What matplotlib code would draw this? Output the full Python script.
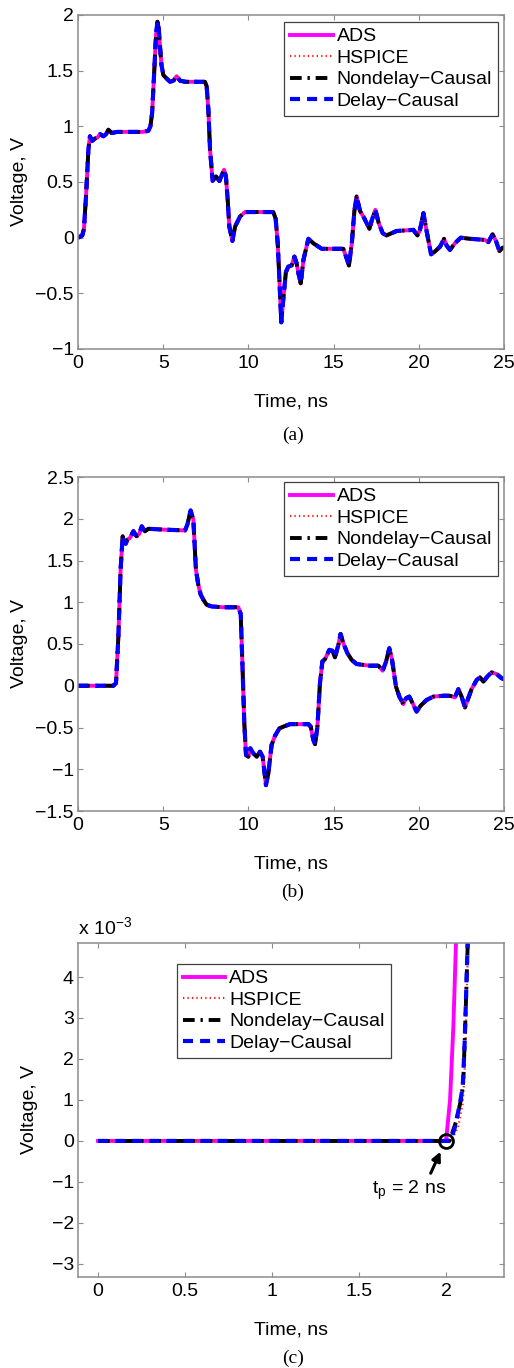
import numpy as np
import matplotlib
matplotlib.use("Agg")
import matplotlib.pyplot as plt
from matplotlib.ticker import FuncFormatter

plt.rcParams['font.family'] = ['Liberation Sans', 'DejaVu Sans']
plt.rcParams['font.size'] = 14
plt.rcParams['axes.edgecolor'] = '#8c8c8c'
plt.rcParams['axes.linewidth'] = 1.1
plt.rcParams['xtick.direction'] = 'in'
plt.rcParams['ytick.direction'] = 'in'
plt.rcParams['xtick.top'] = True
plt.rcParams['ytick.right'] = True
plt.rcParams['xtick.major.size'] = 3.5
plt.rcParams['ytick.major.size'] = 3.5
plt.rcParams['xtick.color'] = '#8c8c8c'
plt.rcParams['ytick.color'] = '#8c8c8c'
plt.rcParams['xtick.labelcolor'] = 'black'
plt.rcParams['ytick.labelcolor'] = 'black'
plt.rcParams['xtick.major.pad'] = 4
plt.rcParams['ytick.major.pad'] = 3

# --- far-end voltage, case (a) (all four methods agree at this scale) ---
t_a = [0, 0.25, 0.35, 0.47, 0.61, 0.70, 0.83, 0.99, 1.15, 1.29, 1.49, 1.65, 1.78, 1.98,
       2.3, 3.0, 3.8, 4.13, 4.25, 4.35, 4.46, 4.58, 4.66, 4.74, 4.81, 4.9, 5.01, 5.2,
       5.4, 5.6, 5.79, 5.99, 6.3, 7.0, 7.45, 7.55, 7.65, 7.75, 7.9, 8.1, 8.3, 8.57,
       8.68, 8.78, 8.88, 9.06, 9.22, 9.51, 9.8, 10.2, 11.0, 11.46, 11.6, 11.72, 11.82,
       11.93, 12.06, 12.2, 12.34, 12.54, 12.7, 12.83, 12.95, 13.07, 13.23, 13.52, 13.81,
       14.3, 15.0, 15.57, 15.73, 15.9, 16.07, 16.22, 16.35, 16.55, 16.78, 17.1, 17.25,
       17.45, 17.65, 17.88, 18.1, 18.7, 19.68, 19.92, 20.07, 20.27, 20.47, 20.72, 20.98,
       21.25, 21.48, 21.63, 21.83, 22.12, 22.46, 23.0, 23.88, 24.08, 24.33, 24.53, 24.73,
       24.92, 25.0]
v_a = [0, 0.02, 0.08, 0.37, 0.79, 0.91, 0.87, 0.89, 0.90, 0.93, 0.91, 0.93, 0.97, 0.94,
       0.95, 0.95, 0.95, 0.96, 1.0, 1.12, 1.45, 1.82, 1.94, 1.88, 1.72, 1.55, 1.46, 1.43,
       1.40, 1.41, 1.45, 1.41, 1.40, 1.40, 1.40, 1.36, 1.15, 0.79, 0.51, 0.55, 0.51, 0.61,
       0.55, 0.35, 0.10, -0.03, 0.10, 0.19, 0.23, 0.23, 0.23, 0.23, 0.17, -0.05, -0.38,
       -0.76, -0.53, -0.31, -0.26, -0.25, -0.17, -0.23, -0.33, -0.41, -0.20, -0.01, -0.05,
       -0.10, -0.10, -0.10, -0.17, -0.25, -0.05, 0.24, 0.37, 0.24, 0.18, 0.08, 0.16,
       0.25, 0.13, 0.04, 0.02, 0.06, 0.07, 0.02, 0.07, 0.22, 0.05, -0.15, -0.12,
       -0.08, -0.01, -0.07, -0.11, -0.05, 0.00, -0.01, -0.02, -0.04, 0.03, -0.03, -0.12,
       -0.09, -0.09]

# --- far-end voltage, case (b) ---
t_b = [0, 2.07, 2.23, 2.37, 2.5, 2.62, 2.70, 2.8, 2.9, 3.05, 3.25, 3.44, 3.6, 3.74, 3.93,
       4.13, 5.0, 6.28, 6.42, 6.61, 6.77, 6.92, 7.06, 7.2, 7.36, 7.55, 7.84, 8.5, 9.41,
       9.55, 9.66, 9.76, 9.86, 10.0, 10.11, 10.29, 10.49, 10.68, 10.84, 11.03, 11.17,
       11.36, 11.56, 11.82, 12.05, 12.44, 13.52, 13.66, 13.81, 13.91, 14.05, 14.2, 14.34,
       14.5, 14.75, 14.93, 15.08, 15.28, 15.41, 15.57, 15.81, 16.06, 16.35, 17.14, 17.63,
       17.88, 18.08, 18.27, 18.43, 18.66, 18.86, 19.09, 19.25, 19.44, 19.64, 19.87, 20.1,
       20.46, 20.85, 21.44, 21.83, 22.12, 22.32, 22.51, 22.71, 22.9, 23.1, 23.4, 23.59,
       23.79, 24.02, 24.27, 24.57, 24.86, 25.0]
v_b = [0, 0, 0.03, 0.59, 1.39, 1.79, 1.72, 1.70, 1.75, 1.77, 1.85, 1.79, 1.82, 1.91, 1.85,
       1.88, 1.87, 1.86, 1.93, 2.10, 1.99, 1.39, 1.21, 1.09, 1.03, 0.97, 0.95, 0.94, 0.94,
       0.86, 0.19, -0.45, -0.83, -0.85, -0.75, -0.81, -0.85, -0.79, -0.85, -1.19, -1.05,
       -0.71, -0.60, -0.51, -0.49, -0.46, -0.46, -0.49, -0.65, -0.70, -0.49, 0.03, 0.29,
       0.32, 0.43, 0.42, 0.34, 0.49, 0.62, 0.51, 0.39, 0.31, 0.26, 0.24, 0.24,
       0.18, 0.29, 0.45, 0.31, -0.01, -0.13, -0.22, -0.15, -0.13, -0.21, -0.31, -0.24,
       -0.17, -0.13, -0.12, -0.12, -0.14, -0.04, -0.13, -0.26, -0.15, -0.04, 0.07, 0.10,
       0.05, 0.11, 0.16, 0.14, 0.09, 0.08]

# --- zoom on the rising edge near t = 2 ns (volts) ---
t_c_ads = [0, 1.0, 2.0, 2.023, 2.042, 2.057, 2.06]
v_c_ads = [0, 0, 0, 1.0e-3, 2.8e-3, 4.82e-3, 5.1e-3]
t_c_hspice = [0, 1.0, 2.03, 2.07, 2.095, 2.105, 2.113, 2.12, 2.128]
v_c_hspice = [0, 0, 0, 0.35e-3, 0.9e-3, 1.5e-3, 2.6e-3, 3.8e-3, 5.0e-3]
t_c_nondelay = [0, 1.0, 2.02, 2.06, 2.09, 2.1, 2.11, 2.118, 2.126]
v_c_nondelay = [0, 0, 0, 0.5e-3, 1.1e-3, 1.6e-3, 2.8e-3, 3.9e-3, 5.0e-3]
t_c_delay = [0, 1.0, 2.025, 2.052, 2.08, 2.096, 2.106, 2.115, 2.125]
v_c_delay = [0, 0, 0, 0.35e-3, 0.92e-3, 1.32e-3, 2.3e-3, 3.52e-3, 5.0e-3]

labels = ['ADS', 'HSPICE', 'Nondelay\u2212Causal', 'Delay\u2212Causal']
captions = ['(a)', '(b)', '(c)']


def draw_curves(ax, series):
    (t1, v1), (t2, v2), (t3, v3), (t4, v4) = series
    ax.plot(t1, v1, color='#ff00ff', lw=2.8, label=labels[0])
    ax.plot(t2, v2, color='#ff2020', lw=1.6, ls=(0, (0.6, 1.4)), label=labels[1])
    ax.plot(t3, v3, color='black', lw=2.8, ls=(0, (3.0, 1.5, 0.6, 1.5)), label=labels[2])
    ax.plot(t4, v4, color='#0000ff', lw=3.0, ls=(0, (2.4, 1.7)), label=labels[3])


def add_legend(ax, loc, anchor):
    leg = ax.legend(loc=loc, bbox_to_anchor=anchor, borderaxespad=0, fancybox=False,
                    edgecolor='#404040', framealpha=1, handlelength=2.2,
                    handletextpad=0.2, labelspacing=0.2, borderpad=0.3, fontsize=14)
    leg.get_frame().set_linewidth(0.9)


def fmt_minus(v, p):
    return f'{v:g}'.replace('-', '\u2212')


fig = plt.figure(figsize=(5.14, 13.68), dpi=100)
left, width, height = 78 / 514, 426 / 514, 334 / 1368

ax1 = fig.add_axes([left, 1 - 349 / 1368, width, height])
draw_curves(ax1, [(t_a, v_a)] * 4)
ax1.set_xlim(0, 25)
ax1.set_ylim(-1, 2)
ax1.set_xticks(np.arange(0, 26, 5))
ax1.set_yticks(np.arange(-1, 2.01, 0.5))
ax1.yaxis.set_major_formatter(FuncFormatter(fmt_minus))
ax1.set_xlabel('Time, ns', labelpad=16)
ax1.set_ylabel('Voltage, V', labelpad=5)
add_legend(ax1, 'upper right', (0.986, 0.979))

ax2 = fig.add_axes([left, 1 - 811 / 1368, width, height])
draw_curves(ax2, [(t_b, v_b)] * 4)
ax2.set_xlim(0, 25)
ax2.set_ylim(-1.5, 2.5)
ax2.set_xticks(np.arange(0, 26, 5))
ax2.set_yticks(np.arange(-1.5, 2.51, 0.5))
ax2.yaxis.set_major_formatter(FuncFormatter(fmt_minus))
ax2.set_xlabel('Time, ns', labelpad=16)
ax2.set_ylabel('Voltage, V', labelpad=5)
add_legend(ax2, 'upper right', (0.986, 0.985))

ax3 = fig.add_axes([left, 1 - 1277 / 1368, width, height])
draw_curves(ax3, [(t_c_ads, v_c_ads), (t_c_hspice, v_c_hspice),
                  (t_c_nondelay, v_c_nondelay), (t_c_delay, v_c_delay)])
ax3.set_xlim(-0.115, 2.333)
ax3.set_ylim(-3.32e-3, 4.83e-3)
ax3.set_xticks([0, 0.5, 1, 1.5, 2])
ax3.xaxis.set_major_formatter(FuncFormatter(lambda v, p: f'{v:g}'))
ax3.set_yticks(np.arange(-3, 5) * 1e-3)
ax3.yaxis.set_major_formatter(FuncFormatter(lambda v, p: f'{round(v * 1e3):d}'.replace('-', '\u2212')))
ax3.set_xlabel('Time, ns', labelpad=16)
ax3.set_ylabel('Voltage, V', labelpad=10)
ax3.text(0.0, 1.012, r'x 10$^{\mathregular{-3}}$', transform=ax3.transAxes,
         ha='left', va='bottom', fontsize=14)
add_legend(ax3, 'upper left', (0.232, 0.937))

# propagation delay marker
ax3.plot([2.0], [0.0], 'o', ms=10, mfc='none', mec='black', mew=2, zorder=5)
ax3.annotate('', xy=(1.975, -0.2e-3), xytext=(1.905, -0.85e-3),
             arrowprops=dict(arrowstyle='-|>', color='black', lw=2.2, mutation_scale=13))
ax3.text(1.575, -1.2e-3, r'$\mathregular{t_p}$ = 2 ns', fontsize=14, ha='left', va='center')

for y, cap in zip([435, 892, 1358], captions):
    fig.text(293 / 514, 1 - y / 1368, cap, ha='center', va='center',
             family='Liberation Serif', fontsize=14)

fig.savefig('out.png', dpi=100)
